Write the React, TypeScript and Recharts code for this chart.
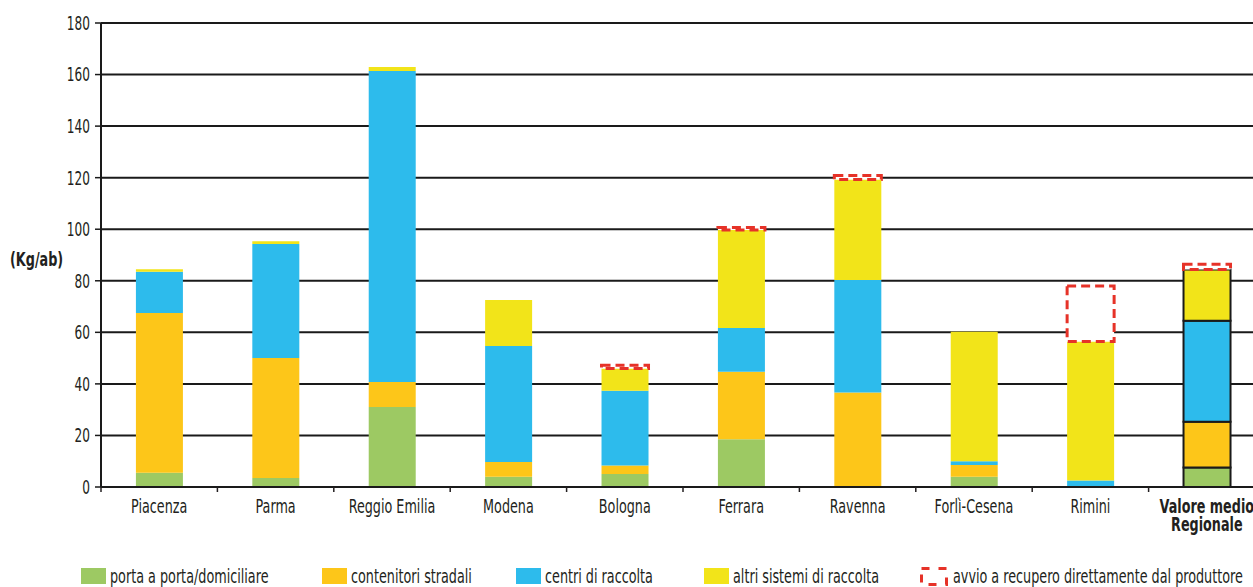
import { ComposedChart, Bar, XAxis, YAxis, CartesianGrid, Cell } from 'recharts'

// Raccolta per provincia, kg per abitante
const categories = [
  'Piacenza', 'Parma', 'Reggio Emilia', 'Modena', 'Bologna',
  'Ferrara', 'Ravenna', 'Forlì-Cesena', 'Rimini', 'Valore medio Regionale',
]
const portaAPorta = [5.5, 3.5, 31, 4, 5, 18.5, 0, 4, 0, 7.6]
const contenitoriStradali = [62, 46.5, 9.7, 5.7, 3.3, 26.2, 36.7, 4.5, 0, 17.7]
const centriRaccolta = [16, 44.3, 120.7, 45, 29, 17, 43.6, 1.5, 2.5, 39.2]
const altriSistemi = [1, 1, 1.5, 17.8, 8.7, 38, 39, 50.2, 53.9, 19.9]
const avvioProduttore = [0, 0, 0, 0, 1.2, 1, 1.5, 0, 21.6, 2]
const yTicks = [0, 20, 40, 60, 80, 100, 120, 140, 160, 180]

const data = categories.map((name, i) => ({
  name,
  porta: portaAPorta[i],
  contenitori: contenitoriStradali[i],
  centri: centriRaccolta[i],
  altri: altriSistemi[i],
  avvio: avvioProduttore[i],
}))

// only a condensed face is available, squeeze it further horizontally
const FONT = "'DejaVu Sans Condensed', 'Liberation Sans Narrow', sans-serif"
const FONT_SIZE = 20
const SQUEEZE = 0.71
const INK = '#231f20'
const GREEN = '#9dc963'
const ORANGE = '#fdc619'
const BLUE = '#2dbbec'
const YELLOW = '#f2e419'
const RED = '#e63228'

const CHART_W = 1275
const CHART_H = 587
const X_AXIS_H = 30
const MARGIN = { top: 23, right: 10, bottom: 100 - X_AXIS_H, left: 0 }
const Y_AXIS_W = 101
const BAND = (CHART_W - MARGIN.left - MARGIN.right - Y_AXIS_W) / categories.length
const LAST = categories.length - 1

const series = [
  { key: 'porta', label: 'porta a porta/domiciliare', color: GREEN, left: 81 },
  { key: 'contenitori', label: 'contenitori stradali', color: ORANGE, left: 322 },
  { key: 'centri', label: 'centri di raccolta', color: BLUE, left: 516 },
  { key: 'altri', label: 'altri sistemi di raccolta', color: YELLOW, left: 704 },
]

const CategoryTick = ({ x, y, payload }: any) => {
  const bold = payload.value === 'Valore medio Regionale'
  return (
    <g>
      <line x1={x - BAND / 2} x2={x - BAND / 2} y1={y} y2={y + 5} stroke={INK} strokeWidth={1.5} />
      <g transform={`translate(${x} ${y + 26}) scale(${SQUEEZE} 1)`}>
        {bold ? (
          <text x={0} y={0} textAnchor="middle" fill={INK} fontFamily={FONT} fontSize={FONT_SIZE} fontWeight="bold">
            <tspan x={0}>Valore medio</tspan>
            <tspan x={0} dy={18}>Regionale</tspan>
          </text>
        ) : (
          <text x={0} y={0} textAnchor="middle" fill={INK} fontFamily={FONT} fontSize={FONT_SIZE}>
            {payload.value}
          </text>
        )}
      </g>
    </g>
  )
}

const ValueTick = ({ x, y, payload }: any) => (
  <g transform={`translate(${x} ${y}) scale(${SQUEEZE} 1)`}>
    <text x={0} y={0} dy="0.36em" textAnchor="end" fill={INK} fontFamily={FONT} fontSize={19}>
      {payload.value}
    </text>
  </g>
)

const legendText = {
  fontFamily: FONT,
  fontSize: FONT_SIZE,
  lineHeight: '20px',
  color: INK,
  whiteSpace: 'nowrap' as const,
  display: 'inline-block',
  transform: `scaleX(${SQUEEZE})`,
  transformOrigin: 'left center',
}

export default function App() {
  return (
    <div style={{ position: 'fixed', left: 0, top: 0, width: 1253, height: 587, overflow: 'hidden', background: '#fff' }}>
      <ComposedChart width={CHART_W} height={CHART_H} data={data} margin={MARGIN} barCategoryGap="30%">
        <CartesianGrid horizontal vertical={false} stroke="#1a1a1a" strokeWidth={2} />
        <XAxis
          dataKey="name"
          height={X_AXIS_H}
          interval={0}
          tickSize={0}
          tickMargin={0}
          tick={<CategoryTick />}
          axisLine={{ stroke: '#1a1a1a', strokeWidth: 2 }}
          tickLine={false}
        />
        <YAxis
          width={Y_AXIS_W}
          domain={[0, 180]}
          ticks={yTicks}
          interval={0}
          tickSize={6}
          tickMargin={5}
          axisLine={{ stroke: '#1a1a1a', strokeWidth: 2 }}
          tickLine={{ stroke: '#1a1a1a', strokeWidth: 1.5 }}
          tick={<ValueTick />}
        />
        {series.map(s => (
          <Bar key={s.key} dataKey={s.key} stackId="a" fill={s.color} isAnimationActive={false}>
            {data.map((_, i) => (
              <Cell
                key={i}
                fill={s.color}
                stroke={i === LAST ? '#1a1a1a' : 'none'}
                strokeWidth={i === LAST ? 2 : 0}
              />
            ))}
          </Bar>
        ))}
        <Bar
          dataKey="avvio"
          stackId="a"
          fill="#fff"
          stroke={RED}
          strokeWidth={3}
          strokeDasharray="9 5"
          isAnimationActive={false}
        />
      </ComposedChart>

      <div style={{ position: 'absolute', left: 10, top: 249 }}>
        <span style={{ ...legendText, fontWeight: 'bold' }}>(Kg/ab)</span>
      </div>

      {series.map(s => (
        <div key={s.key} style={{ position: 'absolute', left: s.left, top: 566, display: 'flex', alignItems: 'center' }}>
          <span style={{ display: 'inline-block', width: 25, height: 16, background: s.color, marginRight: 4 }} />
          <span style={legendText}>{s.label}</span>
        </div>
      ))}
      <div style={{ position: 'absolute', left: 920, top: 566, display: 'flex', alignItems: 'center' }}>
        <svg width={28} height={19} style={{ marginRight: 5 }}>
          <rect x={1.5} y={1.5} width={25} height={16} fill="#fff" stroke={RED} strokeWidth={3} strokeDasharray="8 9" />
        </svg>
        <span style={legendText}>avvio a recupero direttamente dal produttore</span>
      </div>
    </div>
  )
}
